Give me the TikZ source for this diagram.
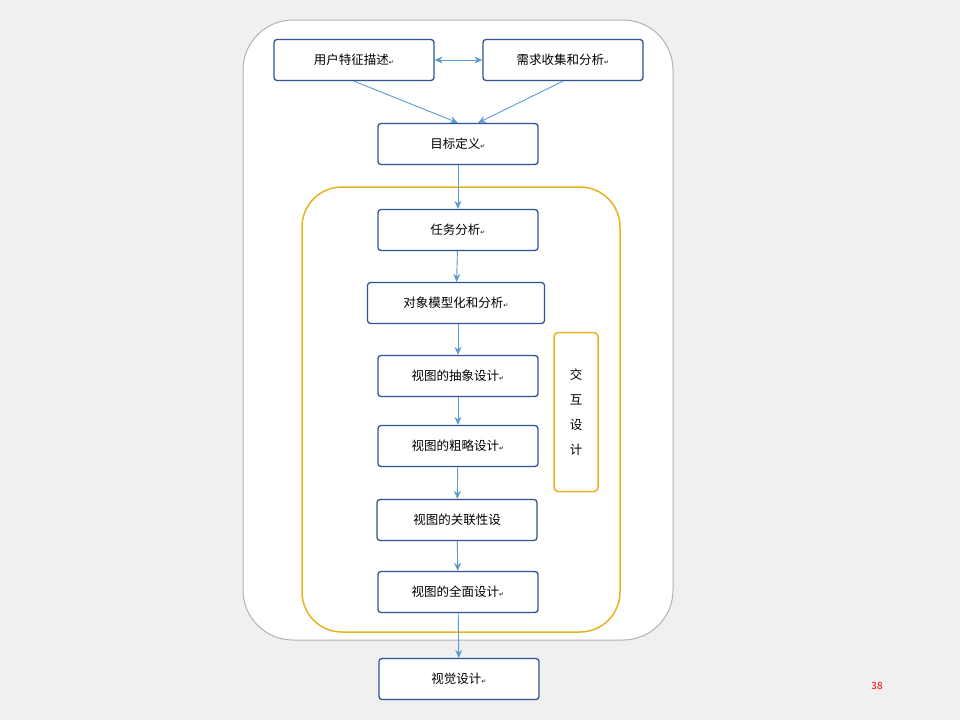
\documentclass[tikz,border=0pt]{standalone}
\usepackage{fontspec}
\setmainfont{Noto Sans CJK SC}
\newfontfamily\dv{DejaVu Sans}
\usetikzlibrary{arrows.meta}
\definecolor{bx}{HTML}{2F5597}
\definecolor{ar}{HTML}{5B9BD5}
\definecolor{gold}{HTML}{E6B422}
\begin{document}
\begin{tikzpicture}[x=1pt,y=-1pt,
 box/.style={draw=bx,line width=1.3pt,fill=white,rounded corners=3pt,minimum height=41pt,font=\fontsize{12.5}{14}\selectfont},
 arr/.style={draw=ar,line width=0.9pt,-{Stealth[length=8pt,width=7pt]}}]
\newcommand{\pmk}{{\dv\fontsize{6}{6}\selectfont ↵}}
\fill[gray!12] (0,0) rectangle (960,720);
\useasboundingbox (0,0) rectangle (960,720);
\draw[gray!60,line width=1pt,fill=white,rounded corners=50pt] (243,20) rectangle (673,640);
\draw[gold,line width=1.5pt,rounded corners=40pt] (302,187) rectangle (620,632);
\node[box,minimum width=160pt] (a) at (354,60) {用户特征描述\pmk};
\node[box,minimum width=160pt] (b) at (563,60) {需求收集和分析\pmk};
\node[box,minimum width=160pt] (c) at (458,144) {目标定义\pmk};
\node[box,minimum width=160pt] (d) at (458,230) {任务分析\pmk};
\node[box,minimum width=177pt] (e) at (456,303) {对象模型化和分析\pmk};
\node[box,minimum width=160pt] (f) at (458,376) {视图的抽象设计\pmk};
\node[box,minimum width=160pt] (g) at (458,446) {视图的粗略设计\pmk};
\node[box,minimum width=160pt] (h) at (457,520) {视图的关联性设};
\node[box,minimum width=160pt] (i) at (458,592) {视图的全面设计\pmk};
\node[box,minimum width=160pt] (j) at (459,679) {视觉设计\pmk};
\node[draw=gold,line width=1.5pt,rounded corners=4pt,minimum width=44pt,minimum height=159pt,align=center,font=\fontsize{12.5}{25}\selectfont] (k) at (576,412) {交\\互\\设\\计};
\draw[draw=ar,line width=0.9pt,{Stealth[length=8pt,width=7pt]}-{Stealth[length=8pt,width=7pt]}] (a.east) -- (b.west);
\draw[arr] (a.south) -- (c.north);
\draw[arr] (b.south) -- ([xshift=20pt]c.north);
\draw[arr] (c) -- (d);
\draw[arr] (d) -- (e);
\draw[arr] (e.south -| f) -- (f);
\draw[arr] (f) -- (g);
\draw[arr] (g) -- (h);
\draw[arr] (h) -- (i);
\draw[arr] (i) -- (j);
\node[text=red,font=\fontsize{10}{12}\selectfont] (n) at (877,686) {38};
\end{tikzpicture}
\end{document}
